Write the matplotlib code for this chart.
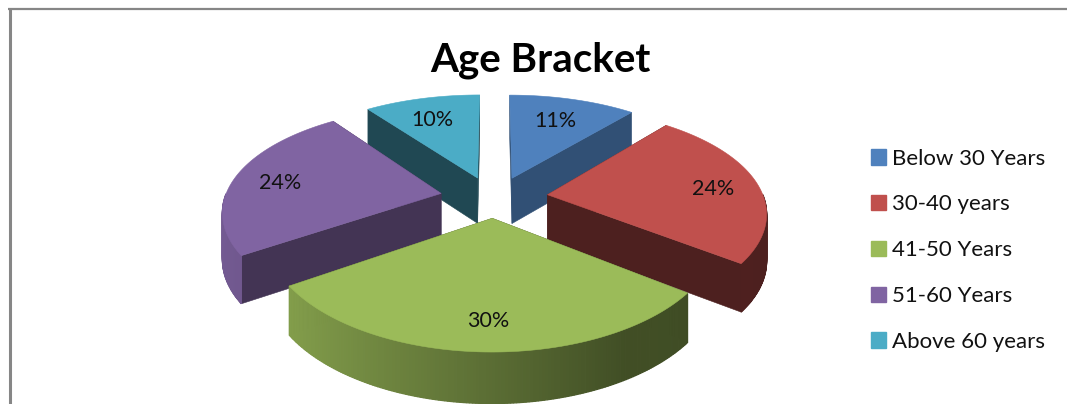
import numpy as np
import matplotlib
matplotlib.use("Agg")
import matplotlib.pyplot as plt
from matplotlib.patches import Polygon, Patch
from matplotlib.colors import to_rgb

title = "Age Bracket"
categories = ["Below 30 Years", "30-40 years", "41-50 Years", "51-60 Years", "Above 60 years"]
shares = [11, 24, 30, 24, 10]
colors = ["#4F81BD", "#C0504D", "#9BBB59", "#8064A2", "#4BACC6"]
side_shade = [0.62, 0.40, 0.40, 0.52, 0.42]
label_radius = [0.74, 0.79, 0.78, 0.78, 0.74]

W, H = 1067, 404
CX, CY, A, B, KX, KY = 494, 197, 216, 103, 0.15, 0.169
EXPLODE_X, EXPLODE_Y, DEPTH = 0.25, 0.2, 46

plt.rcParams["font.family"] = ["Lato", "DejaVu Sans"]
fig = plt.figure(figsize=(W / 100, H / 100), dpi=100)
ax = fig.add_axes([0, 0, 1, 1])
ax.set_xlim(0, W)
ax.set_ylim(H, 0)
ax.axis("off")

# chart frame, open on the right and at the bottom
ax.plot([9.5, 9.5], [H, 8], color="#868686", lw=2.2, solid_capstyle="butt")
ax.plot([8, W], [9, 9], color="#868686", lw=1.6, solid_capstyle="butt")


def project(u, v):
    sy = 1 / (1 + KY * v)
    return CX + A * u / (1 + KX * v), CY - B * v * sy, DEPTH * np.sqrt(sy)


def rim_shade(u):
    return np.interp(u, [-1.25, -0.9, 0, 0.5, 1.25], [0.90, 0.86, 0.58, 0.42, 0.40])


edges = np.cumsum([0] + shares) / sum(shares) * 2 * np.pi
mids = (edges[:-1] + edges[1:]) / 2
order = list(np.argsort(-np.cos(mids)))

for i in order:
    base = np.array(to_rgb(colors[i]))
    t0, t1, m = edges[i], edges[i + 1], mids[i]
    ou, ov = EXPLODE_X * np.sin(m), EXPLODE_Y * np.cos(m)
    th = np.linspace(t0, t1, 160)
    ru, rv = ou + np.sin(th), ov + np.cos(th)
    rx, ry, rd = project(ru, rv)
    px, py, pd = project(ou, ov)
    z = 2 + 3 * order.index(i)

    # radial side faces
    for ex, ey, ed in ((rx[0], ry[0], rd[0]), (rx[-1], ry[-1], rd[-1])):
        ax.add_patch(Polygon([(px, py), (ex, ey), (ex, ey + ed), (px, py + pd)],
                             closed=True, fc=base * side_shade[i], ec=base * side_shade[i],
                             lw=0.4, zorder=z))
    # curved outer wall on the near half only, shaded in slices
    for j in range(len(th) - 1):
        if np.cos((th[j] + th[j + 1]) / 2) > 0:
            continue
        c = base * rim_shade((ru[j] + ru[j + 1]) / 2)
        ax.add_patch(Polygon([(rx[j], ry[j]), (rx[j + 1], ry[j + 1]),
                              (rx[j + 1], ry[j + 1] + rd[j + 1]), (rx[j], ry[j] + rd[j])],
                             closed=True, fc=c, ec=c, lw=0.9, zorder=z + 1))
    # top face
    ax.add_patch(Polygon(np.column_stack([np.r_[px, rx], np.r_[py, ry]]), closed=True,
                         fc=base, ec=base, lw=0.4, zorder=z + 2))
    r = label_radius[i]
    lx, ly, _ = project(ou + r * np.sin(m), ov + r * np.cos(m))
    ax.text(lx - 3 * np.cos(m), ly + 3, f"{shares[i]}%", ha="center", va="center", fontsize=15.5,
            color="#111111", zorder=40)

ax.text(540, 60, title, ha="center", va="center", fontsize=29, fontweight="bold",
        color="black", zorder=40)

handles = [Patch(fc=c, ec=c) for c in colors]
ax.legend(handles, categories, loc="upper left", bbox_to_anchor=(864 / W, 1 - 142 / H),
          frameon=False, fontsize=16, labelspacing=1.16, handlelength=0.68, handleheight=0.68,
          handletextpad=0.27, borderaxespad=0, borderpad=0.3, labelcolor="#111111")

fig.savefig("out.png", dpi=100)
